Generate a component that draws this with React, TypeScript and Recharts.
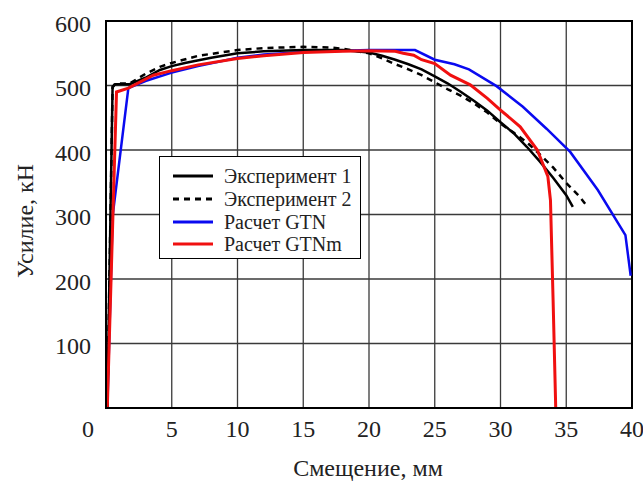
import React from 'react';
import { LineChart, Line, XAxis, YAxis, CartesianGrid, Legend, ReferenceArea } from 'recharts';

const xTicks = [0, 5, 10, 15, 20, 25, 30, 35, 40];
const yTicks = [0, 100, 200, 300, 400, 500, 600];

const exp1X = [0.1, 0.5, 0.7, 1.8, 3, 4.1, 5, 6, 8, 10, 12, 15, 18, 20, 21, 22, 23, 24, 25, 26, 27, 28, 29, 30, 31, 32, 33, 34, 35, 35.5];
const exp1Y = [0, 498, 502, 502, 512, 524, 530, 535, 543, 550, 553, 555, 555, 551, 546, 540, 533, 525, 514, 503, 490, 476, 461, 443, 426, 405, 382, 357, 330, 312];

const exp2X = [0.1, 0.5, 0.7, 1.8, 3, 4.1, 5, 7, 10, 12, 15, 17, 18, 20, 21, 22, 23, 24, 25, 26, 27, 28, 29, 30, 31, 32, 33, 34, 35, 36, 36.5];
const exp2Y = [0, 497, 503, 503, 518, 529, 535, 546, 555, 558, 560, 559, 557, 550, 542, 533, 525, 516, 505, 494, 484, 472, 458, 441, 427, 412, 393, 373, 349, 328, 315];

const gtnX = [0.1, 0.5, 1.7, 3, 5, 7, 10, 12, 15, 18, 20, 23.5, 25, 26.5, 27.6, 29.7, 31.7, 33.5, 35.3, 37.4, 39.5, 39.9];
const gtnY = [0, 297, 496, 507, 520, 530, 543, 548, 552, 554, 555, 555, 540, 533, 525, 499, 467, 433, 397, 338, 268, 205];

const gtnmX = [0.1, 0.8, 1.7, 3.6, 5, 7, 10, 12, 15, 18, 20, 22, 22.6, 23.4, 24, 25, 26.2, 27.7, 29, 30, 31.5, 32.8, 33.6, 33.8, 34.0, 34.2];
const gtnmY = [0, 490, 496, 516, 523, 532, 542, 546, 551, 553, 554, 553, 550, 547, 540, 534, 516, 501, 480, 462, 436, 400, 359, 322, 167, 0];

const zip = (xs: number[], ys: number[]) => xs.map((x, i) => ({ x, y: ys[i] }));

const series = [
  { name: 'Эксперимент 1', data: zip(exp1X, exp1Y), color: '#000000', dash: undefined as string | undefined, width: 2.5 },
  { name: 'Эксперимент 2', data: zip(exp2X, exp2Y), color: '#000000', dash: '6 5', width: 2.5 },
  { name: 'Расчет GTN', data: zip(gtnX, gtnY), color: '#0a0af0', dash: undefined, width: 2.5 },
  { name: 'Расчет GTNm', data: zip(gtnmX, gtnmY), color: '#f01010', dash: undefined, width: 3 },
];

const FONT = '"Liberation Serif", "Times New Roman", serif';

const XTick = (props: any) => {
  const { x, y, payload } = props;
  const dx = payload.value === 0 ? -18 : 0;
  return (
    <text x={x + dx} y={y} dy="0.71em" textAnchor="middle" fontFamily={FONT} fontSize={24} fill="#222">
      {payload.value}
    </text>
  );
};

const YTick = (props: any) => {
  const { x, y, payload } = props;
  if (payload.value === 0) return <g />;
  return (
    <text x={x} y={y + 2} dy="0.355em" textAnchor="end" fontFamily={FONT} fontSize={24} fill="#222">
      {payload.value}
    </text>
  );
};

const renderLegend = () => (
  <div
    style={{
      width: 202,
      height: 103,
      boxSizing: 'border-box',
      border: '1.5px solid #000',
      background: '#fff',
      paddingTop: 8,
      fontFamily: FONT,
      fontSize: 20,
      color: '#222',
    }}
  >
    {series.map((s) => (
      <div key={s.name} style={{ display: 'flex', alignItems: 'center', height: 22.7 }}>
        <svg width={64} height={10} style={{ flex: 'none' }}>
          <line x1={13} x2={53} y1={5} y2={5} stroke={s.color} strokeWidth={3} strokeDasharray={s.dash ? '6 5' : undefined} />
        </svg>
        <span style={{ whiteSpace: 'nowrap', lineHeight: '20px' }}>{s.name}</span>
      </div>
    ))}
  </div>
);

export default function App() {
  return (
    <div style={{ position: 'absolute', left: 0, top: 0 }}>
      <LineChart width={643} height={484} margin={{ top: 21, right: 11, left: 0, bottom: 0 }}>
        <CartesianGrid stroke="#3a3a3a" strokeWidth={1.3} horizontalValues={yTicks} verticalValues={xTicks} />
        <XAxis
          type="number"
          dataKey="x"
          domain={[0, 40]}
          ticks={xTicks}
          allowDataOverflow
          height={76}
          tickSize={0}
          tickMargin={12}
          tickLine={false}
          axisLine={{ stroke: '#000', strokeWidth: 2 }}
          tick={<XTick />}
          label={{
            content: () => (
              <text x={368} y={468} textAnchor="middle" dominantBaseline="central" fontFamily={FONT} fontSize={24} fill="#222">
                Смещение, мм
              </text>
            ),
          }}
        />
        <YAxis
          type="number"
          domain={[0, 600]}
          ticks={yTicks}
          allowDataOverflow
          width={106}
          tickSize={0}
          tickMargin={15}
          tickLine={false}
          axisLine={{ stroke: '#000', strokeWidth: 2 }}
          tick={<YTick />}
          label={{
            content: () => (
              <text
                x={25}
                y={221}
                transform="rotate(-90 25 221)"
                textAnchor="middle"
                dominantBaseline="central"
                fontFamily={FONT}
                fontSize={24}
                fill="#222"
              >
                Усилие, кН
              </text>
            ),
          }}
        />
        <ReferenceArea x1={0} x2={40} y1={0} y2={600} fill="none" stroke="#000" strokeWidth={2} ifOverflow="visible" />
        {[series[2], series[0], series[1], series[3]].map((s) => (
          <Line
            key={s.name}
            data={s.data}
            dataKey="y"
            name={s.name}
            type="linear"
            stroke={s.color}
            strokeWidth={s.width}
            strokeDasharray={s.dash}
            dot={false}
            activeDot={false}
            isAnimationActive={false}
          />
        ))}
        <Legend
          layout="vertical"
          align="center"
          verticalAlign="middle"
          content={renderLegend}
          wrapperStyle={{ left: 159, top: 156, width: 202, height: 103 }}
        />
      </LineChart>
    </div>
  );
}
